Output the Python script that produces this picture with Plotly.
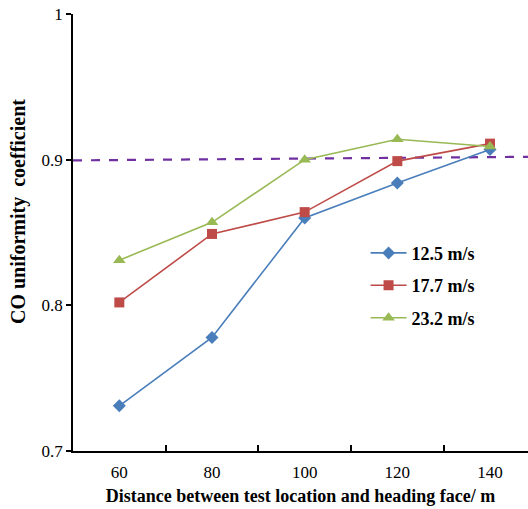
import plotly.graph_objects as go

distance = [60, 80, 100, 120, 140]
v125 = [0.731, 0.778, 0.860, 0.884, 0.907]
v177 = [0.802, 0.849, 0.864, 0.899, 0.911]
v232 = [0.831, 0.857, 0.900, 0.914, 0.909]
threshold_x = [50, 150]
threshold_y = [0.8995, 0.902]
series_names = ["12.5 m/s", "17.7 m/s", "23.2 m/s"]

fig = go.Figure()
fig.add_trace(go.Scatter(x=threshold_x, y=threshold_y, mode="lines",
                         line=dict(color="#7030A0", width=2.2, dash="dash"),
                         showlegend=False, hoverinfo="skip"))
fig.add_trace(go.Scatter(x=distance, y=v125, mode="lines+markers", name=series_names[0],
                         legendgroup="a",
                         line=dict(color="#4A7EBB", width=1.6),
                         marker=dict(symbol="diamond", size=10, color="#4A7EBB")))
fig.add_trace(go.Scatter(x=distance, y=v177, mode="lines+markers", name=series_names[1],
                         legendgroup="b",
                         line=dict(color="#BE4B48", width=1.6),
                         marker=dict(symbol="square", size=10, color="#BE4B48")))
fig.add_trace(go.Scatter(x=distance, y=v232, mode="lines+markers", name=series_names[2],
                         legendgroup="c",
                         line=dict(color="#98B954", width=1.6),
                         marker=dict(symbol="triangle-up", size=11, color="#98B954")))

fig.add_annotation(text="<b>CO uniformity  coefficient</b>", xref="paper", yref="paper",
                   x=(18 - 73) / 455, y=(451 - 212) / 437, xanchor="center", yanchor="middle",
                   textangle=-90, showarrow=False, font=dict(size=20))

fig.update_layout(
    width=528, height=509,
    margin=dict(l=73, r=0, t=14, b=58),
    paper_bgcolor="white", plot_bgcolor="white",
    font=dict(family="Liberation Serif", color="black"),
    legend=dict(x=0.643, y=0.495, xanchor="left", yanchor="top",
                font=dict(size=18, family="Liberation Serif", weight="bold"),
                bgcolor="rgba(0,0,0,0)", tracegroupgap=6, itemwidth=36),
    xaxis=dict(range=[50, 148.2], tickvals=distance, ticks="", showgrid=False, zeroline=False,
               showline=True, linecolor="black", linewidth=1.5,
               tickfont=dict(size=17), ticklabelstandoff=5,
               minor=dict(tickmode="array", tickvals=[70, 90, 110, 130], ticks="inside",
                          ticklen=6, tickcolor="black", tickwidth=1.5),
               title=dict(text="<b>Distance between test location and heading face/ m</b>",
                          font=dict(size=18), standoff=8)),
    yaxis=dict(range=[0.7, 1.0], tickvals=[0.7, 0.8, 0.9, 1.0], ticktext=["0.7", "0.8", "0.9", "1"],
               ticks="outside", ticklen=5, tickcolor="black", tickwidth=1.5,
               showgrid=False, zeroline=False, showline=True, linecolor="black", linewidth=1.5,
               tickfont=dict(size=17)),
)
fig.write_html("out.html")
